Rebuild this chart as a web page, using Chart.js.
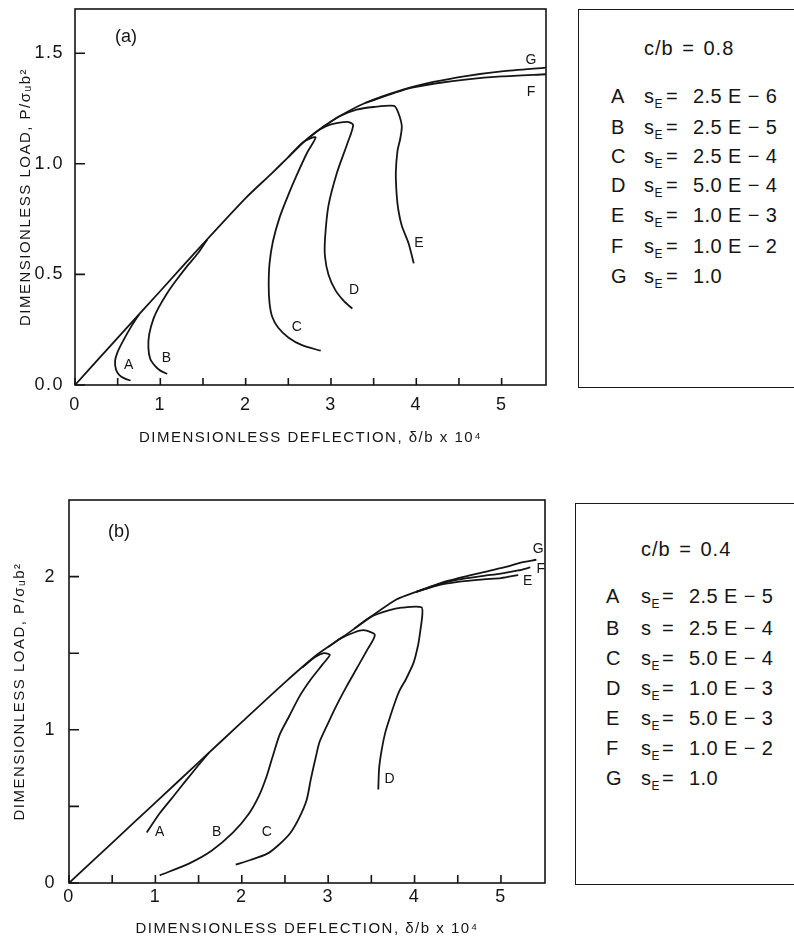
<!DOCTYPE html>
<html><head><meta charset="utf-8">
<script src="https://cdn.jsdelivr.net/npm/chart.js@4.4.0/dist/chart.umd.min.js"></script>
<style>
html,body{margin:0;padding:0;background:#fff;}
body{width:794px;height:944px;position:relative;overflow:hidden;font-family:"Liberation Sans",Arial,sans-serif;color:#151515;}
.cw{position:absolute;left:0;width:560px;}
.tag{position:absolute;font-size:18px;transform:translate(-50%,-50%);white-space:nowrap;}
.lbox{position:absolute;border:1.6px solid #1a1a1a;box-sizing:border-box;}
.lt{position:absolute;font-size:20px;line-height:24px;white-space:nowrap;letter-spacing:0.4px;}
.lt.head{letter-spacing:1px;word-spacing:2px;}
.lt sub{font-size:12px;vertical-align:-5px;line-height:0;letter-spacing:0;}
</style></head><body>
<div class="cw" style="top:0;height:450px"><canvas id="c1" width="560" height="450"></canvas></div>
<div class="cw" style="top:470px;height:474px"><canvas id="c2" width="560" height="474"></canvas></div>
<div class="tag" style="left:126px;top:36px">(a)</div>
<div class="tag" style="left:119px;top:531px">(b)</div>
<div class="lbox" id="lb1" style="left:578px;top:9px;width:230px;height:379px"></div>
<div class="lbox" id="lb2" style="left:575px;top:503px;width:233px;height:382px"></div>
<script>
// ---------- Panel (a): c/b = 0.8 ----------
const aXTicks = [0,0.5,1,1.5,2,2.5,3,3.5,4,4.5,5];
const aXLabels = ['0','','1','','2','','3','','4','','5'];
const aYTicks = [0,0.5,1.0,1.5];
const aYLabels = ['0.0','0.5','1.0','1.5'];
const aG = [[0,0],[0.5,0.213],[1.0,0.425],[1.5,0.638],[2.0,0.845],[2.3,0.955],[2.5,1.03],[2.7,1.105],[2.9,1.165],[3.1,1.215],[3.4,1.275],[3.8,1.33],[4.2,1.37],[4.6,1.398],[5.0,1.418],[5.52,1.435]];
const aF = [[3.4,1.275],[3.9,1.34],[4.2,1.362],[4.6,1.382],[5.0,1.395],[5.52,1.405]];
const aE = [[2.9,1.165],[3.1,1.215],[3.3,1.245],[3.5,1.257],[3.74,1.262],[3.79,1.23],[3.83,1.17],[3.81,1.11],[3.78,1.06],[3.76,0.96],[3.77,0.86],[3.79,0.79],[3.83,0.72],[3.91,0.64],[3.97,0.55]];
const aD = [[2.7,1.105],[2.87,1.155],[3.0,1.178],[3.19,1.19],[3.26,1.176],[3.19,1.09],[3.07,0.96],[2.97,0.81],[2.93,0.66],[2.93,0.58],[2.97,0.5],[3.05,0.43],[3.15,0.38],[3.25,0.345]];
const aC = [[2.5,1.03],[2.68,1.10],[2.82,1.12],[2.72,1.05],[2.60,0.95],[2.50,0.86],[2.40,0.76],[2.32,0.65],[2.28,0.55],[2.27,0.45],[2.28,0.37],[2.31,0.31],[2.38,0.26],[2.50,0.215],[2.66,0.18],[2.88,0.155]];
const aB = [[1.55,0.658],[1.45,0.6],[1.31,0.535],[1.18,0.47],[1.08,0.415],[0.98,0.35],[0.92,0.30],[0.87,0.23],[0.86,0.17],[0.88,0.12],[0.94,0.085],[1.0,0.065],[1.08,0.05]];
const aA = [[0.75,0.319],[0.66,0.265],[0.57,0.204],[0.5,0.15],[0.47,0.11],[0.48,0.07],[0.52,0.045],[0.58,0.03],[0.65,0.02]];
const aCurveTags = ['A','B','C','D','E','F','G'];
const aTagX = [0.63,1.07,2.60,3.27,4.03,5.345,5.345];
const aTagY = [0.09,0.12,0.26,0.43,0.64,1.326,1.467];
const aLegendHead = 'c/b = 0.8';
const aLegendLetters = ['A','B','C','D','E','F','G'];
const aLegendValues = ['2.5 E − 6','2.5 E − 5','2.5 E − 4','5.0 E − 4','1.0 E − 3','1.0 E − 2','1.0'];
const aLegendSub = [true,true,true,true,true,true,true];

// ---------- Panel (b): c/b = 0.4 ----------
const bXTicks = [0,0.5,1,1.5,2,2.5,3,3.5,4,4.5,5];
const bXLabels = ['0','','1','','2','','3','','4','','5'];
const bYTicks = [0,0.5,1,1.5,2];
const bYLabels = ['0','','1','','2'];
const bG = [[0,0],[0.5,0.262],[1.0,0.525],[1.5,0.787],[2.0,1.05],[2.5,1.31],[2.87,1.49],[3.18,1.61],[3.45,1.72],[3.79,1.85],[4.02,1.90],[4.37,1.97],[4.8,2.03],[5.07,2.065],[5.22,2.09],[5.41,2.11]];
const bF = [[4.02,1.90],[4.25,1.945],[4.5,1.98],[4.8,2.005],[5.0,2.02],[5.2,2.04],[5.34,2.06]];
const bE = [[4.02,1.90],[4.25,1.94],[4.5,1.965],[4.8,1.982],[5.0,1.99],[5.2,2.01]];
const bD = [[3.3,1.659],[3.5,1.739],[3.7,1.78],[3.85,1.797],[4.08,1.80],[4.09,1.75],[4.06,1.62],[4.04,1.55],[3.99,1.44],[3.90,1.33],[3.83,1.26],[3.78,1.19],[3.72,1.09],[3.66,0.98],[3.62,0.87],[3.59,0.75],[3.58,0.61]];
const bC = [[3.0,1.54],[3.14,1.595],[3.3,1.635],[3.41,1.65],[3.54,1.62],[3.45,1.52],[3.33,1.40],[3.21,1.28],[3.08,1.14],[2.98,1.02],[2.90,0.92],[2.86,0.83],[2.80,0.68],[2.75,0.54],[2.66,0.42],[2.56,0.325],[2.42,0.245],[2.29,0.19],[2.10,0.15],[1.93,0.12]];
const bB = [[2.7,1.407],[2.85,1.475],[2.95,1.50],[3.02,1.49],[2.94,1.43],[2.80,1.33],[2.67,1.22],[2.55,1.09],[2.44,0.97],[2.36,0.83],[2.29,0.70],[2.20,0.57],[2.08,0.45],[1.90,0.33],[1.65,0.21],[1.40,0.13],[1.05,0.05]];
const bA = [[1.62,0.85],[1.5,0.77],[1.36,0.673],[1.2,0.56],[1.05,0.455],[0.90,0.33]];
const bCurveTags = ['A','B','C','D','E','F','G'];
const bTagX = [1.05,1.71,2.29,3.71,5.31,5.46,5.43];
const bTagY = [0.33,0.33,0.33,0.68,1.97,2.05,2.18];
const bLegendHead = 'c/b = 0.4';
const bLegendLetters = ['A','B','C','D','E','F','G'];
const bLegendValues = ['2.5 E − 5','2.5 E − 4','5.0 E − 4','1.0 E − 3','5.0 E − 3','1.0 E − 2','1.0'];
const bLegendSub = [true,false,true,true,true,true,true];

const xTitleText = 'DIMENSIONLESS DEFLECTION, δ/b x 10⁴';
const yTitleText = 'DIMENSIONLESS LOAD, P/σᵤb²';

const FONT = '"Liberation Sans", Arial, sans-serif';
const INK = '#151515';

const framePlugin = {
  id: 'frame',
  beforeDraw(chart) { chart.ctx.letterSpacing = '1.5px'; },
  beforeDatasetsDraw(chart, args, opts) {
    const {ctx, chartArea: a, scales: {x, y}} = chart;
    ctx.letterSpacing = '0px';
    ctx.save();
    ctx.strokeStyle = INK; ctx.lineWidth = 1.6;
    ctx.strokeRect(a.left, a.top, a.right - a.left, a.bottom - a.top);
    ctx.beginPath();
    for (const t of x.ticks) { const px = x.getPixelForValue(t.value); ctx.moveTo(px, a.bottom); ctx.lineTo(px, a.bottom - opts.xLen); }
    for (const t of y.ticks) { const py = y.getPixelForValue(t.value); ctx.moveTo(a.left, py); ctx.lineTo(a.left + opts.yLen, py); }
    ctx.stroke();
    ctx.restore();
  },
  afterDatasetsDraw(chart, args, opts) {
    const {ctx, scales: {x, y}} = chart;
    ctx.save();
    ctx.fillStyle = INK; ctx.font = '14px ' + FONT;
    ctx.textAlign = 'center'; ctx.textBaseline = 'middle';
    opts.tags.forEach((t, i) => ctx.fillText(t, x.getPixelForValue(opts.tx[i]), y.getPixelForValue(opts.ty[i])));
    ctx.restore();
  }
};

function makeChart(id, c) {
  const datasets = c.curves.map(pts => ({
    data: pts.map(p => ({x: p[0], y: p[1]})),
    showLine: true, borderColor: INK, borderWidth: 1.8, pointRadius: 0, tension: 0.25, fill: false
  }));
  return new Chart(document.getElementById(id), {
    type: 'scatter',
    data: {datasets},
    options: {
      responsive: false, animation: false, events: [],
      layout: {padding: {left: 0, right: c.padRight, top: c.padTop, bottom: 0}},
      plugins: {legend: {display: false}, tooltip: {enabled: false},
        frame: {xLen: c.xLen, yLen: c.yLen, tags: c.tags, tx: c.tx, ty: c.ty}},
      scales: {
        x: {type: 'linear', min: 0, max: c.xMax,
          grid: {display: false, drawTicks: false}, border: {display: false},
          afterBuildTicks: s => { s.ticks = c.xTicks.map(v => ({value: v})); },
          afterFit: s => { s.height = c.xAxisH; s.paddingLeft = 0; s.paddingRight = 0; s.paddingTop = 0; s.paddingBottom = 0; },
          ticks: {callback: (v, i) => c.xLabels[i], font: {family: FONT, size: 18}, color: INK, padding: c.xPad, maxRotation: 0, autoSkip: false},
          title: {display: true, text: xTitleText, font: {family: FONT, size: 15}, color: INK, padding: {top: 0, bottom: c.xTitlePad}}
        },
        y: {type: 'linear', min: 0, max: c.yMax,
          grid: {display: false, drawTicks: false}, border: {display: false},
          afterBuildTicks: s => { s.ticks = c.yTicks.map(v => ({value: v})); },
          afterFit: s => { s.width = c.yAxisW; s.paddingLeft = 0; s.paddingRight = 0; s.paddingTop = 0; s.paddingBottom = 0; },
          ticks: {callback: (v, i) => c.yLabels[i], font: {family: FONT, size: 18}, color: INK, padding: c.yPad, autoSkip: false},
          title: {display: true, text: yTitleText, font: {family: FONT, size: 15}, color: INK, padding: {top: c.yTitlePad, bottom: 0}}
        }
      }
    },
    plugins: [framePlugin]
  });
}

makeChart('c1', {
  curves: [aA, aB, aC, aD, aE, aF, aG],
  xTicks: aXTicks, xLabels: aXLabels, yTicks: aYTicks, yLabels: aYLabels,
  xMax: 5.52, yMax: 1.7, padRight: 14, padTop: 9, xAxisH: 65, yAxisW: 75,
  xPad: 9, yPad: 11, xTitlePad: 3, yTitlePad: 17, xLen: 7, yLen: 10,
  tags: aCurveTags, tx: aTagX, ty: aTagY
});
makeChart('c2', {
  curves: [bA, bB, bC, bD, bE, bF, bG],
  xTicks: bXTicks, xLabels: bXLabels, yTicks: bYTicks, yLabels: bYLabels,
  xMax: 5.51, yMax: 2.5, padRight: 15, padTop: 30, xAxisH: 61, yAxisW: 69,
  xPad: 3, yPad: 13, xTitlePad: 6, yTitlePad: 11, xLen: 8, yLen: 10,
  tags: bCurveTags, tx: bTagX, ty: bTagY
});

function buildLegend(boxId, head, letters, values, subs, geo) {
  const box = document.getElementById(boxId);
  const add = (txt, left, cy, html, cls) => {
    const d = document.createElement('div'); d.className = 'lt' + (cls ? ' ' + cls : '');
    if (html) d.innerHTML = txt; else d.textContent = txt;
    d.style.left = (left - geo.boxLeft) + 'px'; d.style.top = (cy - 12 - geo.boxTop) + 'px';
    box.appendChild(d);
  };
  add(head, geo.headX, geo.headY, false, 'head');
  letters.forEach((L, i) => {
    const cy = geo.rowY[i];
    add(L, geo.letterX, cy);
    add(subs[i] ? 's<sub>E</sub>' : 's', geo.sX, cy, true);
    add('=', geo.eqX, cy);
    add(values[i], geo.valX, cy);
  });
}
buildLegend('lb1', aLegendHead, aLegendLetters, aLegendValues, aLegendSub,
  {boxLeft: 578, boxTop: 9, headX: 643, headY: 47, rowY: [95,126,155,184,214,245,275], letterX: 610, sX: 643, eqX: 665, valX: 692});
buildLegend('lb2', bLegendHead, bLegendLetters, bLegendValues, bLegendSub,
  {boxLeft: 575, boxTop: 503, headX: 640, headY: 548, rowY: [595,627,657,687,717,747,777], letterX: 605, sX: 640, eqX: 661, valX: 688});
</script>
</body></html>
